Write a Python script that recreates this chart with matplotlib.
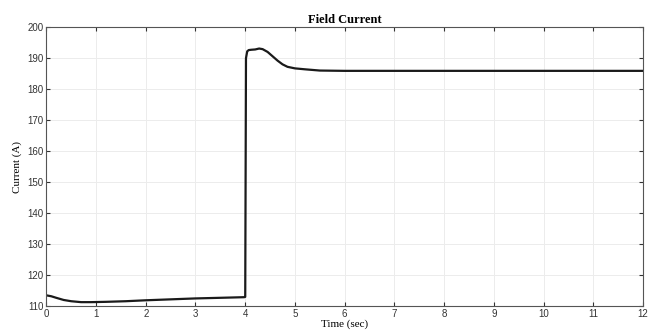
import matplotlib
matplotlib.use("Agg")
import matplotlib.pyplot as plt

# time (s) and field current (A)
t = [0.0, 0.1, 0.2, 0.35, 0.5, 0.7, 0.9, 1.2, 1.6, 2.0, 2.5, 3.0, 3.5, 3.98,
     4.0, 4.015, 4.04, 4.07, 4.12, 4.2, 4.28, 4.35, 4.45, 4.55, 4.65, 4.75,
     4.85, 5.0, 5.2, 5.5, 6.0, 8.0, 10.0, 12.0]
i_field = [113.5, 113.2, 112.7, 112.0, 111.6, 111.3, 111.3, 111.4, 111.6, 111.9,
           112.2, 112.5, 112.7, 112.9,
           113.0, 190.0, 192.2, 192.6, 192.7, 192.8, 193.1, 192.9, 192.0, 190.6,
           189.2, 188.0, 187.2, 186.7, 186.4, 186.0, 185.9, 185.9, 185.9, 185.9]

x_ticks = list(range(0, 13))
y_ticks = list(range(110, 201, 10))

fig = plt.figure(figsize=(6.61, 3.31), dpi=100)
ax = fig.add_axes([0.070, 0.075, 0.903, 0.843])

ax.plot(t, i_field, color='#1a1a1a', linewidth=1.6)

ax.set_xlim(0, 12)
ax.set_ylim(110, 200)
ax.set_xticks(x_ticks)
ax.set_yticks(y_ticks)
ax.grid(True, color='#ececec', linewidth=0.7)
ax.tick_params(direction='in', length=3, labelsize=7, colors='#333333', pad=2,
               top=True, right=True)
for lbl in ax.get_xticklabels() + ax.get_yticklabels():
    lbl.set_family('Liberation Sans')
for s in ax.spines.values():
    s.set_color('#555555')
    s.set_linewidth(0.8)

ax.set_title("Field Current", fontsize=9, fontweight='bold',
             family='Liberation Serif', pad=3)
ax.set_xlabel("Time (sec)", fontsize=8, family='Liberation Serif', labelpad=0)
ax.set_ylabel("Current (A)", fontsize=8, family='Liberation Serif', labelpad=4)

fig.savefig("out.png", dpi=100)
